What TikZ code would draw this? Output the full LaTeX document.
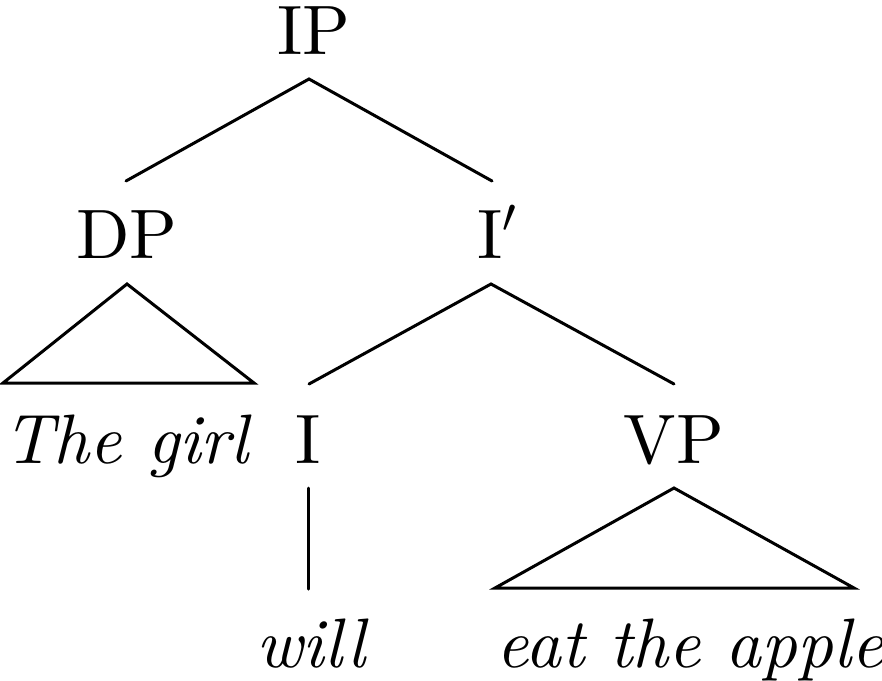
\RequirePackage{fix-cm}
\documentclass[tikz,border=0pt]{standalone}
\usepackage{fontspec}
\setmainfont{lmroman10-regular.otf}[ItalicFont=lmroman10-italic.otf]
\begin{document}
\begin{tikzpicture}[x=1pt,y=-1pt,
  lbl/.style={inner sep=0pt,anchor=base,font=\fontsize{70}{76}\selectfont},
  edge/.style={line width=3pt,line cap=round,line join=miter}]
\useasboundingbox (0,0) rectangle (882,680);
% labels
\node[lbl] (IP) at (314,54) {IP};
\node[lbl] (DP) at (127,258) {DP};
\node[lbl] (Ibar) at (497,258) {I$'$};
\node[lbl] (girl) at (126,463) {\itshape The girl};
\node[lbl] (I) at (308,463) {I};
\node[lbl] (VP) at (674,463) {VP};
\node[lbl] (will) at (311,667) {\itshape will};
\node[lbl] (apple) at (690,667) {\itshape eat the apple};
% connector ends
\coordinate (ipTop) at (309,79);
\coordinate (dpTop) at (126,181);
\coordinate (ibTop) at (492,181);
\coordinate (dpApex) at (127,284);
\coordinate (dpL) at (3,383);
\coordinate (dpR) at (254,383);
\coordinate (ibApex) at (491,284);
\coordinate (iTop) at (309,384);
\coordinate (vpTop) at (674,384);
\coordinate (iBot) at (308,488);
\coordinate (willTop) at (308,589);
\coordinate (vpApex) at (674,488);
\coordinate (vpL) at (495,588);
\coordinate (vpR) at (854,588);
% edges
\draw[edge] (dpTop) -- (ipTop) -- (ibTop);
\draw[edge] (dpApex) -- (dpL) -- (dpR) -- cycle;
\draw[edge] (iTop) -- (ibApex) -- (vpTop);
\draw[edge] (iBot) -- (willTop);
\draw[edge] (vpApex) -- (vpL) -- (vpR) -- cycle;
\end{tikzpicture}
\end{document}
